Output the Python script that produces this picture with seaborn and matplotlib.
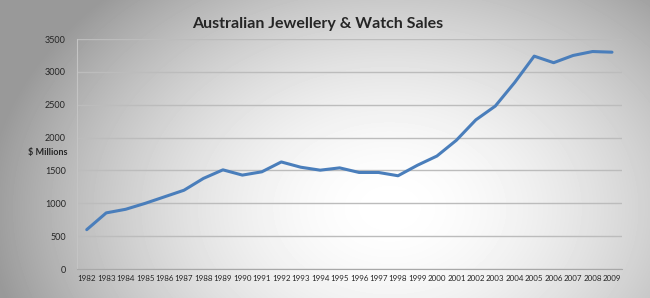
import numpy as np
import pandas as pd
import seaborn as sns
import matplotlib.pyplot as plt
from matplotlib.ticker import FixedLocator

years = [str(y) for y in range(1982, 2010)]
sales = [600, 855, 910, 1000, 1100, 1200, 1380, 1510, 1430, 1480,
         1630, 1550, 1505, 1540, 1470, 1470, 1420, 1580, 1720, 1960,
         2270, 2480, 2840, 3240, 3140, 3250, 3310, 3300]
y_ticks = [0, 500, 1000, 1500, 2000, 2500, 3000, 3500]

data = pd.DataFrame({'year': years, 'sales': sales})

sns.set_style('white')
plt.rcParams['font.family'] = ['Lato', 'DejaVu Sans']

fig = plt.figure(figsize=(6.5, 2.98), dpi=100)

# radial grey background like the Excel chart area
bg = fig.add_axes([0, 0, 1, 1], zorder=-1)
xx, yy = np.meshgrid(np.linspace(0, 1, 650), np.linspace(0, 1, 298))
r = np.sqrt(((xx - 0.6) / 0.62) ** 2 + ((yy - 0.7) / 1.0) ** 2)
shade = 1 - 0.4 * np.clip(r, 0, 1) ** 1.8
bg.imshow(shade, cmap='gray', vmin=0, vmax=1, aspect='auto',
          extent=[0, 1, 0, 1], origin='upper')
bg.axis('off')

ax = fig.add_axes([0.1185, 0.097, 0.838, 0.772])
ax.patch.set_alpha(0)
sns.lineplot(data=data, x='year', y='sales', ax=ax, color='#4a7ebb',
             linewidth=2.2, sort=False)

ax.set_xlim(-0.5, len(years) - 0.5)
ax.set_ylim(0, 3500)
ax.set_yticks(y_ticks)
ax.set_yticklabels([str(v) for v in y_ticks], fontsize=6.5)
ax.set_xticks(range(len(years)))
ax.set_xticklabels(years, fontsize=5.8)
ax.xaxis.set_minor_locator(FixedLocator(np.arange(-0.5, len(years), 1)))
ax.tick_params(axis='x', which='major', length=0, pad=4)
ax.tick_params(axis='x', which='minor', length=3, color='#a0a0a0', width=0.8)
ax.tick_params(axis='y', length=0, pad=8)
ax.grid(axis='y', color='#bcbcbc', linewidth=1.0)
ax.set_axisbelow(True)
for side in ['top', 'right']:
    ax.spines[side].set_visible(False)
ax.spines['left'].set_color('#c4c4c4')
ax.spines['left'].set_linewidth(0.8)
ax.spines['bottom'].set_color('#a8a8a8')
ax.spines['bottom'].set_linewidth(0.8)
ax.set_xlabel('')
ax.set_ylabel('')

fig.text(0.043, 0.487, '$ Millions', fontsize=6.5, fontweight='bold',
         ha='left', va='center')
fig.text(0.488, 0.918, 'Australian Jewellery & Watch Sales', fontsize=11.5,
         fontweight='bold', ha='center', va='center')

fig.savefig('out.png', dpi=100)
